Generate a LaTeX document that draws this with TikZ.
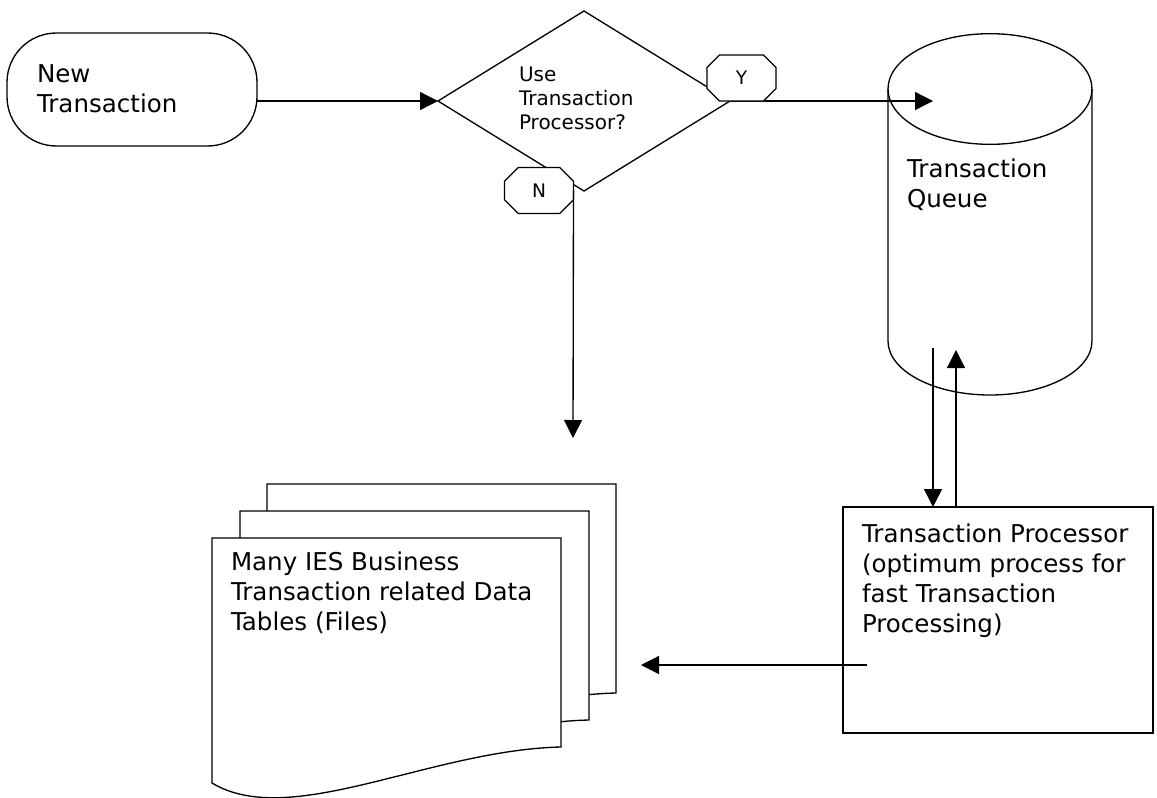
\documentclass[tikz,border=0pt]{standalone}
\usepackage{fontspec}
\setmainfont{DejaVu Sans}
\usetikzlibrary{arrows.meta,shapes.geometric,shapes.misc}
\begin{document}
\begin{tikzpicture}[x=0.75pt,y=-0.75pt, line width=1pt,
  every node/.style={inner sep=0pt, outer sep=0pt},
  conn/.style={-{Triangle[length=13.5pt,width=13.5pt]}},
  bigtext/.style={anchor=north west, align=left, font=\fontsize{18.4}{22.5}\selectfont},
  smalltext/.style={anchor=north west, align=left, font=\fontsize{15}{18}\selectfont},
  octo/.style={draw, fill=white, chamfered rectangle, chamfered rectangle xsep=9.75pt,
    chamfered rectangle ysep=9.75pt, minimum width=51.75pt, minimum height=34.5pt,
    font=\fontsize{14}{16}\selectfont},
  page/.style={draw, fill=white}]
\useasboundingbox (0,0) rectangle (1157,797);

% New Transaction terminator
\node[draw, rounded corners=37pt, minimum width=187.5pt, minimum height=84.75pt] (newt) at (132,89.5) {};
\node[bigtext] (newttext) at (37,65) {New\\Transaction};

% Decision diamond
\node[draw, diamond, minimum width=219pt, minimum height=135pt] (dec) at (584,101) {};
\node[smalltext] (dectext) at (519,67) {Use\\Transaction\\Processor?};

% Cylinder (Transaction Queue)
\draw[fill=white] (888,89) -- (888,341)
  arc[start angle=180, end angle=360, x radius=76.5pt, y radius=40.5pt]
  -- (1092,89)
  arc[start angle=0, end angle=180, x radius=76.5pt, y radius=41.5pt] -- cycle;
\draw (888,89) arc[start angle=180, end angle=360, x radius=76.5pt, y radius=41.5pt];
\node[bigtext] (queuetext) at (907,159) {Transaction\\Queue};
\coordinate (qin) at (933,101);
\coordinate (qdown) at (933,348);
\coordinate (qup) at (956,350);

% Connector New Transaction -> decision
\draw[conn] (newt.east |- dec.west) -- (dec.west);
% Y branch
\draw[conn] (dec.east) -- (qin);
\node[octo] (Y) at (741.5,78) {Y};
% N branch
\node[octo] (N) at (539,190.5) {N};
\coordinate (nend) at (573,438);
\draw[conn] (N.east) -- (nend);

% Transaction Processor
\node[draw, minimum width=232.5pt, minimum height=169.5pt] (proc) at (998,620) {};
\node[bigtext] (proctext) at (862,524) {Transaction Processor\\(optimum process for\\fast Transaction\\Processing)};
\draw[conn] (qdown) -- (qdown |- proc.north);
\draw[conn] (qup |- proc.north) -- (qup);

% Files (stacked documents)
\foreach \dx/\dy in {55/-54, 28/-27, 0/0} {
  \draw[page, shift={(\dx,\dy)}] (212,538) -- (561,538) -- (561,747)
    .. controls (430,750) and (290,830) .. (212,783) -- cycle;
}
\node[bigtext] (filetext) at (231,552) {Many IES Business\\Transaction related Data\\Tables (Files)};

% Processor -> files
\coordinate (pout) at (867,665);
\coordinate (fin) at (641,665);
\draw[conn] (pout) -- (fin);
\end{tikzpicture}
\end{document}
